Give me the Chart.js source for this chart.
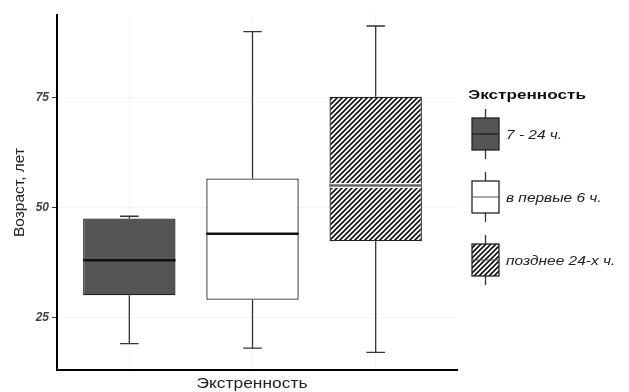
<!DOCTYPE html>
<html><head><meta charset="utf-8">
<script src="https://cdn.jsdelivr.net/npm/chart.js@4.4.0/dist/chart.umd.min.js"></script>
<style>html,body{margin:0;padding:0;background:#fff;}</style>
</head><body>
<canvas id="c" width="629" height="392"></canvas>
<script>
const categories = ['7 - 24 ч.', 'в первые 6 ч.', 'позднее 24-х ч.'];
const whiskerLow  = [19, 18, 17];
const q1          = [30, 29, 42.3];
const median      = [38, 44, 55];
const q3          = [47.5, 56.6, 75.2];
const whiskerHigh = [48, 90, 91.3];
const yTicks = [25, 50, 75];
const xTitle = 'Экстренность';
const yTitle = 'Возраст, лет';
const legendTitle = 'Экстренность';

const FONT = '"Liberation Sans", Arial, sans-serif';
const canvas = document.getElementById('c');
const ctx0 = canvas.getContext('2d');
function makeHatch() {
  const c = document.createElement('canvas');
  c.width = 5; c.height = 5;
  const g = c.getContext('2d');
  g.fillStyle = '#fff'; g.fillRect(0, 0, 5, 5);
  g.strokeStyle = '#111'; g.lineWidth = 1.6;
  g.beginPath();
  g.moveTo(-1, 6); g.lineTo(6, -1);
  g.moveTo(-1, 1); g.lineTo(1, -1);
  g.moveTo(4, 6); g.lineTo(6, 4);
  g.stroke();
  return ctx0.createPattern(c, 'repeat');
}
const hatch = makeHatch();
const fills = ['#555555', '#ffffff', hatch];
const medianStyles = [
  {color: '#111', width: 2.5, under: null},
  {color: '#111', width: 2.5, under: null},
  {color: '#666', width: 2.5, under: '#fff'}
];

function stretchedText(ctx, text, x, y, sx, align) {
  ctx.save();
  ctx.translate(x, y);
  ctx.scale(sx, 1);
  ctx.textAlign = align || 'left';
  ctx.fillText(text, 0, 0);
  ctx.restore();
}

const boxPlugin = {
  id: 'boxExtras',
  afterDatasetsDraw(chart) {
    const ctx = chart.ctx;
    const xs = chart.scales.x, ys = chart.scales.y;
    const meta = chart.getDatasetMeta(0);
    ctx.save();
    categories.forEach((c, i) => {
      const bar = meta.data[i];
      const cx = xs.getPixelForValue(i + 1);
      const half = bar.width / 2;
      const cap = bar.width * 0.1;
      ctx.strokeStyle = '#333'; ctx.lineWidth = 1.3;
      ctx.beginPath();
      ctx.moveTo(cx, ys.getPixelForValue(q3[i])); ctx.lineTo(cx, ys.getPixelForValue(whiskerHigh[i]));
      ctx.moveTo(cx, ys.getPixelForValue(q1[i])); ctx.lineTo(cx, ys.getPixelForValue(whiskerLow[i]));
      ctx.moveTo(cx - cap, ys.getPixelForValue(whiskerHigh[i])); ctx.lineTo(cx + cap, ys.getPixelForValue(whiskerHigh[i]));
      ctx.moveTo(cx - cap, ys.getPixelForValue(whiskerLow[i])); ctx.lineTo(cx + cap, ys.getPixelForValue(whiskerLow[i]));
      ctx.stroke();
      const my = ys.getPixelForValue(median[i]);
      const ms = medianStyles[i];
      if (ms.under) {
        ctx.strokeStyle = ms.under; ctx.lineWidth = 5;
        ctx.beginPath(); ctx.moveTo(cx - half + 1, my); ctx.lineTo(cx + half - 1, my); ctx.stroke();
      }
      ctx.strokeStyle = ms.color; ctx.lineWidth = ms.width;
      ctx.beginPath(); ctx.moveTo(cx - half, my); ctx.lineTo(cx + half, my); ctx.stroke();
    });
    ctx.restore();
  },
  afterDraw(chart) {
    const ctx = chart.ctx;
    const xs = chart.scales.x;
    ctx.save();
    ctx.textBaseline = 'middle';
    // x axis title
    ctx.fillStyle = '#222';
    ctx.font = '14.5px ' + FONT;
    stretchedText(ctx, xTitle, 252, 384, 1.2, 'center');
    // legend
    ctx.fillStyle = '#111';
    ctx.font = 'bold 13.5px ' + FONT;
    stretchedText(ctx, legendTitle, 468, 95, 1.27, 'left');
    const kx = 472, kw = 27, kh = 32;
    categories.forEach((c, i) => {
      const cyy = 134 + i * 63;
      const cx = kx + kw / 2;
      ctx.strokeStyle = '#333'; ctx.lineWidth = 1.3;
      ctx.beginPath();
      ctx.moveTo(cx, cyy - kh / 2 - 9); ctx.lineTo(cx, cyy - kh / 2);
      ctx.moveTo(cx, cyy + kh / 2); ctx.lineTo(cx, cyy + kh / 2 + 9);
      ctx.stroke();
      ctx.fillStyle = fills[i];
      ctx.fillRect(kx, cyy - kh / 2, kw, kh);
      ctx.strokeStyle = '#222'; ctx.lineWidth = 1.3;
      ctx.strokeRect(kx, cyy - kh / 2, kw, kh);
      ctx.strokeStyle = i === 0 ? '#111' : '#555'; ctx.lineWidth = 1;
      ctx.beginPath(); ctx.moveTo(kx, cyy); ctx.lineTo(kx + kw, cyy); ctx.stroke();
      ctx.fillStyle = '#222';
      ctx.font = 'italic 13px ' + FONT;
      stretchedText(ctx, c, kx + kw + 7, cyy + 1, 1.19, 'left');
    });
    ctx.restore();
  }
};

new Chart(canvas, {
  type: 'bar',
  data: {
    datasets: [{
      label: xTitle,
      data: categories.map((c, i) => ({x: i + 1, y: [q1[i], q3[i]]})),
      backgroundColor: fills,
      borderColor: '#222',
      borderWidth: 1.3,
      borderSkipped: false,
      categoryPercentage: 1,
      barPercentage: 0.75
    }]
  },
  options: {
    responsive: false,
    animation: false,
    layout: {padding: {left: 0, top: 15, right: 172, bottom: 0}},
    plugins: {legend: {display: false}, tooltip: {enabled: false}, title: {display: false}},
    scales: {
      x: {
        type: 'linear',
        min: 0.413, max: 3.66,
        offset: false,
        afterBuildTicks(s) { s.ticks = categories.map((c, i) => ({value: i + 1})); },
        afterFit(s) { s.height = 22; },
        ticks: {display: false},
        grid: {color: 'rgba(0,0,0,0.045)', offset: false, drawTicks: false},
        border: {color: '#000', width: 2},
        title: {display: false, text: xTitle}
      },
      y: {
        min: 13, max: 93.8,
        beginAtZero: false,
        afterBuildTicks(s) { s.ticks = yTicks.map(v => ({value: v})); },
        afterFit(s) { s.width = 57; },
        ticks: {color: '#444', padding: 3, font: {family: FONT, size: 12, style: 'italic', weight: 'bold'}},
        grid: {color: 'rgba(0,0,0,0.045)', tickColor: '#333', tickLength: 5, tickWidth: 1},
        border: {color: '#000', width: 2},
        title: {display: true, text: yTitle, color: '#222', font: {family: FONT, size: 15.5}, padding: {top: 10.5, bottom: 0}}
      }
    }
  },
  plugins: [boxPlugin]
});
</script>
</body></html>
